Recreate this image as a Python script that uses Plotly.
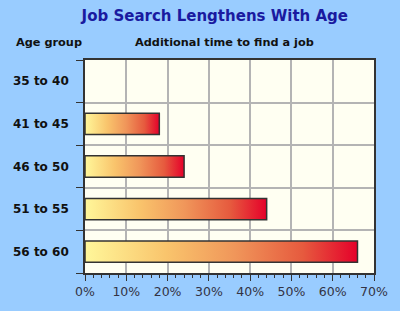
import plotly.graph_objects as go

categories = ["35 to 40", "41 to 45", "46 to 50", "51 to 55", "56 to 60"]
values = [0, 18, 24, 44, 66]
x_ticks = [0, 10, 20, 30, 40, 50, 60, 70]
x_tick_labels = [f"{t}%" for t in x_ticks]

BAR_HALF = 0.25
gradient = [[0.0, "#fff79a"], [0.3, "#f9c46c"], [0.55, "#f0965a"],
            [0.8, "#e65a3e"], [1.0, "#e5002a"]]

fig = go.Figure()
for i, (cat, v) in enumerate(zip(categories, values)):
    if v <= 0:
        continue
    fig.add_trace(go.Scatter(
        x=[0, v, v, 0, 0],
        y=[i - BAR_HALF, i - BAR_HALF, i + BAR_HALF, i + BAR_HALF, i - BAR_HALF],
        mode="lines", fill="toself",
        line=dict(color="#333333", width=1.5),
        fillgradient=dict(type="horizontal", colorscale=gradient),
        name=cat, showlegend=False, hoverinfo="skip",
    ))

for i, cat in enumerate(categories):
    fig.add_annotation(text=f"<b>{cat}</b>", xref="paper", yref="y", x=-0.048, y=i,
                       xanchor="right", yanchor="middle", showarrow=False,
                       font=dict(family="DejaVu Sans", size=12, color="#111111"))

fig.add_annotation(text="<b>Age group</b>", xref="paper", yref="paper",
                   x=-0.247, y=1.08, xanchor="left", yanchor="middle",
                   showarrow=False, font=dict(family="DejaVu Sans", size=11.3, color="#111111"))
fig.add_annotation(text="<b>Additional time to find a job</b>", xref="paper", yref="paper",
                   x=0.483, y=1.08, xanchor="center", yanchor="middle",
                   showarrow=False, font=dict(family="DejaVu Sans", size=11.3, color="#111111"))

fig.update_layout(
    width=400, height=311,
    margin=dict(l=85, r=23, t=60, b=32),
    paper_bgcolor="#99ccff", plot_bgcolor="#fffff2",
    title=dict(text="<b>Job Search Lengthens With Age</b>", x=0.537, xanchor="center",
               y=0.948, yanchor="middle",
               font=dict(family="DejaVu Sans", size=15, color="#1a1aa0")),
    xaxis=dict(range=[0, 70], tickmode="array", tickvals=x_ticks, ticktext=x_tick_labels,
               showgrid=True, gridcolor="#b4b4b4", gridwidth=1.5,
               ticks="outside", ticklen=6, tickcolor="#333333", tickwidth=1,
               minor=dict(tickmode="linear", tick0=0, dtick=2, ticks="outside", ticklen=3,
                          tickcolor="#333333", showgrid=False),
               showline=True, linecolor="#333333", linewidth=1.5, mirror=True,
               tickfont=dict(family="DejaVu Sans", size=12.5, color="#333344"),
               zeroline=False, fixedrange=True),
    yaxis=dict(range=[4.5, -0.5], tickvals=[-0.5, 0.5, 1.5, 2.5, 3.5, 4.5],
               ticktext=[""] * 6, showgrid=True, gridcolor="#b4b4b4", gridwidth=1.5,
               ticks="outside", ticklen=7, tickcolor="#333333",
               showline=True, linecolor="#333333", linewidth=1.5, mirror=True,
               zeroline=False, fixedrange=True),
)

fig.write_html("out.html")
